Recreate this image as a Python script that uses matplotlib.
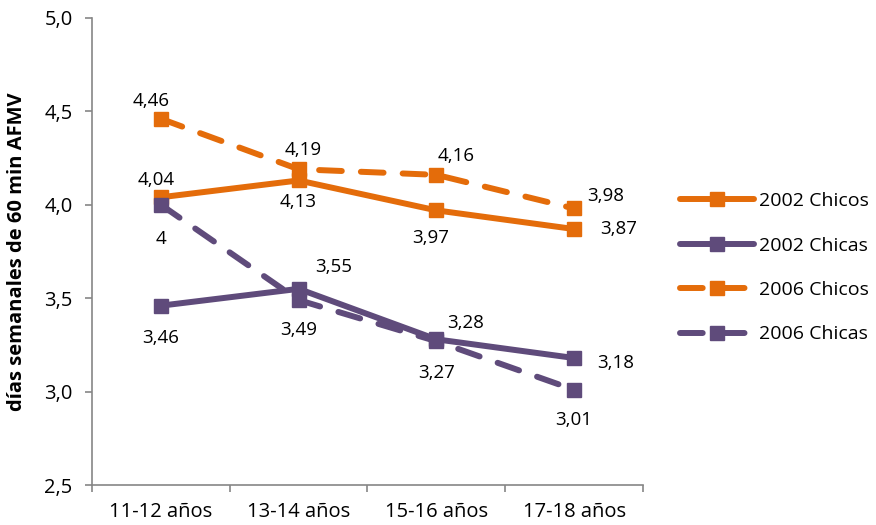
import matplotlib
matplotlib.use("Agg")
import matplotlib.pyplot as plt

# datos
grupos = ["11-12 años", "13-14 años", "15-16 años", "17-18 años"]
chicos_2002 = [4.04, 4.13, 3.97, 3.87]
chicas_2002 = [3.46, 3.55, 3.28, 3.18]
chicos_2006 = [4.46, 4.19, 4.16, 3.98]
chicas_2006 = [4.00, 3.49, 3.27, 3.01]
yticks = [2.5, 3.0, 3.5, 4.0, 4.5, 5.0]

NARANJA = "#E46C0A"
MORADO = "#5F4B7B"
GRIS = "#868686"

plt.rcParams["font.family"] = ["Open Sans", "DejaVu Sans"]


def fmt(v):
    s = f"{v:.2f}".rstrip("0").rstrip(".")
    return s.replace(".", ",")


def etiquetas(ax, xs, vals, offsets):
    for x, v, (dx, dy) in zip(xs, vals, offsets):
        ax.annotate(fmt(v), (x, v), xytext=(dx, dy), textcoords="offset pixels",
                    ha="center", va="center", fontsize=13.5, color="black")


fig = plt.figure(figsize=(8.76, 5.25), dpi=100)
ax = fig.add_axes([0.105, 0.076, 0.629, 0.890])

xs = [i + 0.5 for i in range(len(grupos))]
kw = dict(lw=4.3, marker="s", markersize=10, solid_capstyle="round",
          dash_capstyle="round")

ax.plot(xs, chicos_2002, color=NARANJA, label="2002 Chicos", **kw)
ax.plot(xs, chicas_2002, color=MORADO, label="2002 Chicas", **kw)
ax.plot(xs, chicos_2006, color=NARANJA, ls=(0, (3.8, 3.2)), label="2006 Chicos", **kw)
ax.plot(xs, chicas_2006, color=MORADO, ls=(0, (3.8, 3.2)), label="2006 Chicas", **kw)

etiquetas(ax, xs, chicos_2002, [(-5, 17), (0, -22), (-6, -28), (45, 0)])
etiquetas(ax, xs, chicas_2002, [(0, -32), (35, 22), (29, 16), (42, -5)])
etiquetas(ax, xs, chicos_2006, [(-10, 18), (5, 19), (20, 19), (32, 12)])
etiquetas(ax, xs, chicas_2006, [(0, -34), (0, -30), (0, -32), (0, -30)])

ax.set_xlim(0, 4)
ax.set_ylim(2.5, 5.0)
ax.set_yticks(yticks)
ax.set_yticklabels([f"{t:.1f}".replace(".", ",") for t in yticks], fontsize=14.5)
ax.set_xticks([0, 1, 2, 3, 4])
ax.set_xticklabels([])
ax.set_xticks(xs, minor=True)
ax.set_xticklabels(grupos, minor=True, fontsize=14.5)
ax.tick_params(axis="x", which="minor", length=0, pad=12)
ax.tick_params(axis="x", which="major", length=5, color=GRIS, width=1.2)
ax.tick_params(axis="y", length=5, color=GRIS, width=1.2, pad=9)

for s in ["top", "right"]:
    ax.spines[s].set_visible(False)
for s in ["left", "bottom"]:
    ax.spines[s].set_color(GRIS)
    ax.spines[s].set_linewidth(1.2)

ax.set_ylabel("días semanales de 60 min AFMV", fontsize=14.5, fontweight="bold")
ax.yaxis.set_label_coords(-0.118, 0.5)

fig.legend(loc="center left", bbox_to_anchor=(0.756, 0.49), frameon=False,
           fontsize=14, handlelength=3.8, labelspacing=1.36, handletextpad=0.3)

fig.savefig("out.png", dpi=100)
